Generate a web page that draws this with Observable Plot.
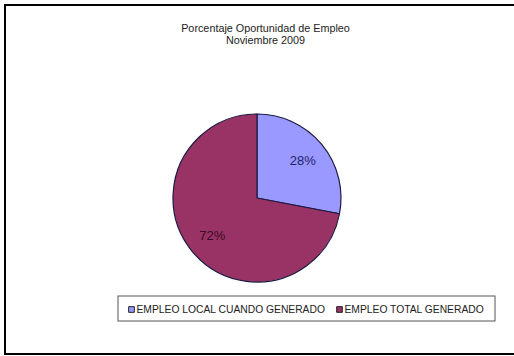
<!DOCTYPE html>
<html>
<head>
<meta charset="utf-8">
<script src="https://cdn.jsdelivr.net/npm/d3@7"></script>
<script src="https://cdn.jsdelivr.net/npm/@observablehq/plot@0.6"></script>
<style>
  html, body { margin: 0; padding: 0; background: #fff; }
  #chart svg { display: block; font-family: "Liberation Sans", Arial, sans-serif; }
</style>
</head>
<body>
<div id="chart"></div>
<script>
// ---- data ----
const titleLines = ["Porcentaje Oportunidad de Empleo", "Noviembre 2009"];
const categories = ["EMPLEO LOCAL CUANDO GENERADO", "EMPLEO TOTAL GENERADO"];
const values = [28, 72];
const valueLabels = ["28%", "72%"];
const colors = ["#9999FF", "#993366"];
const labelColors = ["#22226a", "#3a0a22"];

// ---- layout ----
const W = 514, H = 356;
const cx = 257, cy = 198, R = 84;

const rows = categories.map((c, i) => ({category: c, value: values[i], label: valueLabels[i]}));
const slices = d3.pie().sort(null).value(d => d.value)(rows);
const arc = d3.arc().innerRadius(0).outerRadius(R);
const labelArc = d3.arc().innerRadius(R * 0.7).outerRadius(R * 0.7);

function pieMark(index, scales) {
  const g = d3.create("svg:g");
  const X = scales.x(cx), Y = scales.y(cy);
  g.selectAll("path")
    .data(slices)
    .join("path")
    .attr("transform", `translate(${X},${Y})`)
    .attr("d", arc)
    .attr("fill", d => scales.color(d.data.category))
    .attr("stroke", "#1a1a40")
    .attr("stroke-width", 1.2)
    .attr("stroke-linejoin", "round");
  return g.node();
}

const legendX = [131, 339];
const legendY = 309;

const chart = Plot.plot({
  width: W,
  height: H,
  margin: 0,
  x: {domain: [0, W], range: [0, W], axis: null},
  y: {domain: [0, H], range: [0, H], axis: null},
  color: {domain: categories, range: colors},
  style: {fontFamily: "'Liberation Sans', Arial, sans-serif", background: "#fff"},
  marks: [
    // outer frame
    Plot.rect([0], {x1: 5, x2: 522, y1: 5, y2: 354, fill: "white", stroke: "#000", strokeWidth: 2}),
    // title
    Plot.text(titleLines, {
      x: 265, y: (d, i) => 28 + i * 12, text: d => d,
      fontSize: 10.8, fill: "#222"
    }),
    // pie
    pieMark,
    // slice labels
    Plot.text(slices, {
      x: d => cx + labelArc.centroid(d)[0],
      y: d => cy + labelArc.centroid(d)[1],
      text: d => d.data.label,
      fill: (d, i) => labelColors[i],
      fontSize: 13
    }),
    // legend box
    Plot.rect([0], {x1: 118, x2: 495, y1: 296, y2: 321, fill: "white", stroke: "#555", strokeWidth: 1}),
    Plot.dot(categories, {
      x: (d, i) => legendX[i], y: legendY, fill: d => d,
      symbol: "square", r: 3.2, stroke: "#222", strokeWidth: 1
    }),
    Plot.text(categories, {
      x: (d, i) => legendX[i] + 5, y: legendY, text: d => d,
      textAnchor: "start", fontSize: 10.3, fill: "#222"
    })
  ]
});

document.getElementById("chart").append(chart);
</script>
</body>
</html>
